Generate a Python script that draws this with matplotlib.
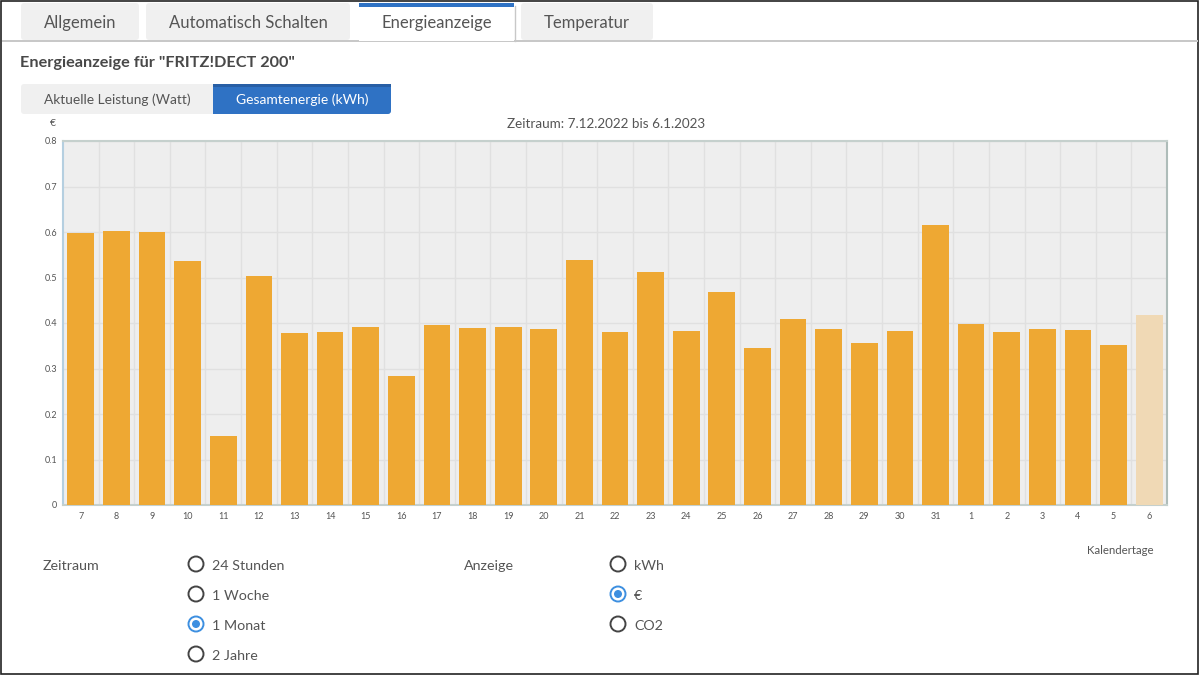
import matplotlib
matplotlib.use("Agg")
import matplotlib.pyplot as plt
from matplotlib.patches import Rectangle, FancyBboxPatch, Circle

plt.rcParams['font.family'] = ['Lato', 'DejaVu Sans']

days = ['7', '8', '9', '10', '11', '12', '13', '14', '15', '16', '17', '18', '19', '20', '21', '22',
        '23', '24', '25', '26', '27', '28', '29', '30', '31', '1', '2', '3', '4', '5', '6']
euro = [0.598, 0.602, 0.600, 0.536, 0.152, 0.503, 0.378, 0.380, 0.391, 0.284, 0.396, 0.389, 0.391,
        0.387, 0.538, 0.380, 0.512, 0.382, 0.468, 0.345, 0.409, 0.387, 0.356, 0.382, 0.615, 0.398,
        0.380, 0.387, 0.384, 0.352, 0.418]
y_ticks = [0, 0.1, 0.2, 0.3, 0.4, 0.5, 0.6, 0.7, 0.8]
y_tick_labels = ['0', '0.1', '0.2', '0.3', '0.4', '0.5', '0.6', '0.7', '0.8']

tabs = ['Allgemein', 'Automatisch Schalten', 'Energieanzeige', 'Temperatur']
tab_left = [21, 146, 359, 521]
tab_right = [139, 350, 514, 653]
zeitraum = ['24 Stunden', '1 Woche', '1 Monat', '2 Jahre']
anzeige = ['kWh', '€', 'CO2']

TEXT = '#555555'
BLUE = '#3d8fe0'

fig = plt.figure(figsize=(12, 6.75), dpi=100)

# overlay in pixel coordinates for the page around the chart
ui = fig.add_axes([0, 0, 1, 1], zorder=0)
ui.set_xlim(0, 1200)
ui.set_ylim(675, 0)
ui.axis('off')

# outer frame of the screenshot
ui.add_patch(Rectangle((0.5, 0.5), 1197.5, 673, fill=False, ec='#222222', lw=1.2))

# tabs
for i in range(len(tabs)):
    active = tabs[i] == 'Energieanzeige'
    ui.add_patch(FancyBboxPatch((tab_left[i], 3), tab_right[i] - tab_left[i], 37,
                                boxstyle='round,pad=0,rounding_size=3', lw=0,
                                fc='white' if active else '#f0f0f0', zorder=1))
    ui.text((tab_left[i] + tab_right[i]) / 2, 23, tabs[i], ha='center', va='center',
            fontsize=12, color=TEXT, zorder=4)
ui.add_patch(Rectangle((1.5, 39.5), 1196, 2, fc='#c8c8c8', lw=0, zorder=2))
ui.add_patch(Rectangle((359, 7), 155, 34, fc='white', lw=0, zorder=3))
ui.add_patch(Rectangle((359, 3), 155, 3.5, fc='#2f72c4', lw=0, zorder=3))
ui.plot([514.5, 514.5], [6, 41], color='#c8c8c8', lw=1, zorder=3)

ui.text(20, 63, 'Energieanzeige für "FRITZ!DECT 200"', fontsize=11.7, fontweight='bold',
        color='#484848', va='center')

# toggle buttons
ui.add_patch(FancyBboxPatch((23, 86), 192, 26, boxstyle='round,pad=2,rounding_size=3', lw=0, fc='#f0f0f0'))
ui.add_patch(FancyBboxPatch((215, 86), 174, 26, boxstyle='round,pad=2,rounding_size=3', lw=0, fc='#2f72c4'))
ui.add_patch(Rectangle((213, 84), 8, 30, lw=0, fc='#2f72c4'))
ui.add_patch(Rectangle((213, 84), 178, 3, lw=0, fc='#285fa5'))
ui.text(117, 100, 'Aktuelle Leistung (Watt)', fontsize=9.9, color=TEXT, ha='center', va='center')
ui.text(302, 100, 'Gesamtenergie (kWh)', fontsize=10, color='white', ha='center', va='center')

ui.text(606, 124, 'Zeitraum: 7.12.2022 bis 6.1.2023', fontsize=9.7, color=TEXT, ha='center', va='center')
ui.text(53, 123, '€', fontsize=7.5, color=TEXT, ha='center', va='center')
ui.text(1154, 550, 'Kalendertage', fontsize=8.2, color=TEXT, ha='right', va='center')


def radio(x, y, label, selected):
    ui.add_patch(Circle((x, y), 7.5, fc='white', ec=BLUE if selected else '#444444', lw=1.4))
    if selected:
        ui.add_patch(Circle((x, y), 4, fc=BLUE, lw=0))
    ui.text(x + 16, y + 1.5, label, fontsize=10.3, color=TEXT, va='center')


ui.text(43, 565.5, 'Zeitraum', fontsize=10.3, color=TEXT, va='center')
for i in range(len(zeitraum)):
    radio(196, 564 + i * 30, zeitraum[i], zeitraum[i] == '1 Monat')
ui.text(464, 565.5, 'Anzeige', fontsize=10.3, color=TEXT, va='center')
for i in range(len(anzeige)):
    radio(618, 564 + i * 30, anzeige[i], anzeige[i] == '€')

# the chart
ax = fig.add_axes([63 / 1200, 1 - 505 / 675, 1104 / 1200, 364 / 675], zorder=1)
ax.set_facecolor('#eeeeee')
x = list(range(len(days)))
colors = ['#eea833'] * (len(days) - 1) + ['#f0d9b5']
ax.bar(x, euro, width=0.75, color=colors, zorder=3)
ax.set_xlim(-0.5, len(days) - 0.5)
ax.set_ylim(0, 0.8)
ax.set_xticks(x)
ax.set_xticklabels(days)
ax.set_yticks(y_ticks)
ax.set_yticklabels(y_tick_labels)
ax.tick_params(length=0, labelsize=6.5, labelcolor=TEXT)
ax.tick_params(axis='x', pad=5)
ax.tick_params(axis='y', pad=4)
ax.set_xticks([i - 0.5 for i in x[1:]], minor=True)
ax.tick_params(which='minor', length=0)
ax.grid(True, which='minor', axis='x', color='#e0e0e0', lw=1, zorder=1)
ax.grid(True, which='major', axis='y', color='#e0e0e0', lw=1, zorder=1)
ax.set_axisbelow(True)
for s in ['top', 'bottom']:
    ax.spines[s].set_color('#c5d0cd')
    ax.spines[s].set_linewidth(1.5)
ax.spines['left'].set_color('#b5cfe0')
ax.spines['left'].set_linewidth(1.5)
ax.spines['right'].set_color('#aebcb9')
ax.spines['right'].set_linewidth(1.5)

plt.savefig('out.png', dpi=100)
